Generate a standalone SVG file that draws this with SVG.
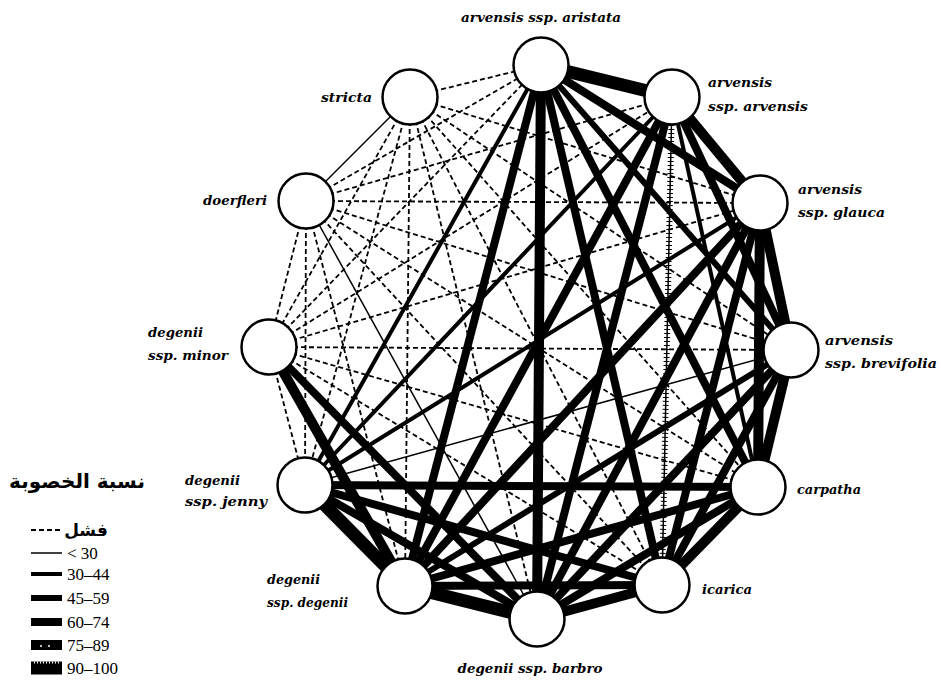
<svg xmlns="http://www.w3.org/2000/svg" width="941" height="683" viewBox="0 0 941 683">
  <style>
    .f{stroke:#000;stroke-width:1.8;stroke-dasharray:5 3;fill:none}
    .t0{stroke:#000;stroke-width:1.5}
    .t1{stroke:#000;stroke-width:4}
    .t2{stroke:#000;stroke-width:6}
    .t3{stroke:#000;stroke-width:8}
    .t4{stroke:#000;stroke-width:10}
    .t5{stroke:#000;stroke-width:13}
    .core{stroke:#fff;stroke-width:1.4;stroke-dasharray:2 6}
    .tick{stroke:#000;stroke-width:6;stroke-dasharray:1 3}
    .node{fill:#fff;stroke:#000;stroke-width:2.5}
    .lbl{font-family:"DejaVu Serif","Liberation Serif",serif;font-style:italic;font-weight:bold;font-size:13px;fill:#000}
    .leg{font-family:"Liberation Serif","DejaVu Serif",serif;font-size:17px;fill:#000}
    .ar{font-family:"DejaVu Sans","Noto Sans",sans-serif;font-weight:bold;fill:#000}
  </style>
  <rect width="941" height="683" fill="#fff"/>

  <!-- crossing results between taxa -->
  <g id="connectors" stroke-linecap="butt">
    <!-- failed crosses -->
    <line class="f" x1="410" y1="97" x2="541" y2="65"/>
    <line class="f" x1="410" y1="97" x2="760" y2="203"/>
    <line class="f" x1="410" y1="97" x2="791" y2="350"/>
    <line class="f" x1="410" y1="97" x2="758" y2="487"/>
    <line class="f" x1="410" y1="97" x2="662" y2="585"/>
    <line class="f" x1="410" y1="97" x2="537" y2="619"/>
    <line class="f" x1="410" y1="97" x2="405" y2="586"/>
    <line class="f" x1="410" y1="97" x2="305" y2="485"/>
    <line class="f" x1="410" y1="97" x2="269" y2="347"/>
    <line class="f" x1="306" y1="201" x2="541" y2="65"/>
    <line class="f" x1="306" y1="201" x2="672" y2="97"/>
    <line class="f" x1="306" y1="201" x2="760" y2="203"/>
    <line class="f" x1="306" y1="201" x2="791" y2="350"/>
    <line class="f" x1="306" y1="201" x2="758" y2="487"/>
    <line class="f" x1="306" y1="201" x2="662" y2="585"/>
    <line class="f" x1="306" y1="201" x2="405" y2="586"/>
    <line class="f" x1="306" y1="201" x2="305" y2="485"/>
    <line class="f" x1="306" y1="201" x2="269" y2="347"/>
    <line class="f" x1="269" y1="347" x2="541" y2="65"/>
    <line class="f" x1="269" y1="347" x2="672" y2="97"/>
    <line class="f" x1="269" y1="347" x2="760" y2="203"/>
    <line class="f" x1="269" y1="347" x2="791" y2="350"/>
    <line class="f" x1="269" y1="347" x2="758" y2="487"/>
    <line class="f" x1="269" y1="347" x2="662" y2="585"/>
    <line class="f" x1="269" y1="347" x2="305" y2="485"/>

    <!-- below 30 -->
    <line class="t0" x1="410" y1="97" x2="306" y2="201"/>
    <line class="t0" x1="306" y1="201" x2="537" y2="619"/>
    <line class="t0" x1="305" y1="485" x2="791" y2="350"/>

    <!-- 30-44 -->
    <line class="t1" x1="541" y1="65" x2="305" y2="485"/>
    <line class="t1" x1="672" y1="97" x2="305" y2="485"/>
    <line class="t1" x1="760" y1="203" x2="305" y2="485"/>
    <line class="t1" x1="672" y1="97" x2="758" y2="487"/>
    <line class="t0" x1="672" y1="97" x2="662" y2="585"/>
    <line class="tick" x1="672" y1="97" x2="662" y2="585"/>

    <!-- 45-59 -->
    <line class="t2" x1="541" y1="65" x2="791" y2="350"/>
    <line class="t2" x1="791" y1="350" x2="405" y2="586"/>

    <!-- 60-74 -->
    <line class="t3" x1="541" y1="65" x2="760" y2="203"/>
    <line class="t3" x1="541" y1="65" x2="758" y2="487"/>
    <line class="t3" x1="541" y1="65" x2="662" y2="585"/>
    <line class="t3" x1="541" y1="65" x2="405" y2="586"/>
    <line class="t3" x1="672" y1="97" x2="791" y2="350"/>
    <line class="t3" x1="672" y1="97" x2="537" y2="619"/>
    <line class="t3" x1="672" y1="97" x2="405" y2="586"/>
    <line class="t3" x1="760" y1="203" x2="662" y2="585"/>
    <line class="t3" x1="760" y1="203" x2="537" y2="619"/>
    <line class="t3" x1="760" y1="203" x2="405" y2="586"/>
    <line class="t3" x1="791" y1="350" x2="662" y2="585"/>
    <line class="t3" x1="791" y1="350" x2="537" y2="619"/>
    <line class="t3" x1="758" y1="487" x2="537" y2="619"/>
    <line class="t3" x1="758" y1="487" x2="405" y2="586"/>
    <line class="t3" x1="758" y1="487" x2="305" y2="485"/>
    <line class="t3" x1="662" y1="585" x2="405" y2="586"/>
    <line class="t3" x1="662" y1="585" x2="305" y2="485"/>
    <line class="t3" x1="537" y1="619" x2="305" y2="485"/>
    <line class="t3" x1="269" y1="347" x2="537" y2="619"/>

    <!-- 75-89 -->
    <line class="t4" x1="541" y1="65" x2="537" y2="619"/>
    <line class="t4" x1="672" y1="97" x2="760" y2="203"/>
    <line class="t4" x1="760" y1="203" x2="791" y2="350"/>
    <line class="t4" x1="760" y1="203" x2="758" y2="487"/>
    <line class="t4" x1="791" y1="350" x2="758" y2="487"/>
    <line class="t4" x1="758" y1="487" x2="662" y2="585"/>
    <line class="t4" x1="662" y1="585" x2="537" y2="619"/>
    <line class="t4" x1="269" y1="347" x2="405" y2="586"/>

    <!-- 90-100 -->
    <line class="t5" x1="541" y1="65" x2="672" y2="97"/>
    <line class="t5" x1="537" y1="619" x2="405" y2="586"/>
    <line class="t5" x1="405" y1="586" x2="305" y2="485"/>
  </g>

  <g id="node-aristata">
    <circle class="node" cx="541" cy="65" r="27.5"/>
    <text class="lbl" x="541" y="22" text-anchor="middle" textLength="160" lengthAdjust="spacingAndGlyphs">arvensis ssp. aristata</text>
  </g>
  <g id="node-arvensis">
    <circle class="node" cx="672" cy="97" r="27.5"/>
    <text class="lbl" x="708" y="87" textLength="64" lengthAdjust="spacingAndGlyphs">arvensis</text>
    <text class="lbl" x="708" y="111" textLength="100" lengthAdjust="spacingAndGlyphs">ssp. arvensis</text>
  </g>
  <g id="node-glauca">
    <circle class="node" cx="760" cy="203" r="27.5"/>
    <text class="lbl" x="798" y="194" textLength="64" lengthAdjust="spacingAndGlyphs">arvensis</text>
    <text class="lbl" x="798" y="217" textLength="87" lengthAdjust="spacingAndGlyphs">ssp. glauca</text>
  </g>
  <g id="node-brevifolia">
    <circle class="node" cx="791" cy="350" r="27.5"/>
    <text class="lbl" x="825" y="345" textLength="68" lengthAdjust="spacingAndGlyphs">arvensis</text>
    <text class="lbl" x="825" y="368" textLength="112" lengthAdjust="spacingAndGlyphs">ssp. brevifolia</text>
  </g>
  <g id="node-carpatha">
    <circle class="node" cx="758" cy="487" r="27.5"/>
    <text class="lbl" x="797" y="494" textLength="64" lengthAdjust="spacingAndGlyphs">carpatha</text>
  </g>
  <g id="node-icarica">
    <circle class="node" cx="662" cy="585" r="27.5"/>
    <text class="lbl" x="702" y="594" textLength="50" lengthAdjust="spacingAndGlyphs">icarica</text>
  </g>
  <g id="node-barbro">
    <circle class="node" cx="537" cy="619" r="27.5"/>
    <text class="lbl" x="530" y="673" text-anchor="middle" textLength="145" lengthAdjust="spacingAndGlyphs">degenii ssp. barbro</text>
  </g>
  <g id="node-degenii">
    <circle class="node" cx="405" cy="586" r="27.5"/>
    <text class="lbl" x="267" y="584" textLength="53" lengthAdjust="spacingAndGlyphs">degenii</text>
    <text class="lbl" x="267" y="607" textLength="81" lengthAdjust="spacingAndGlyphs">ssp. degenii</text>
  </g>
  <g id="node-jenny">
    <circle class="node" cx="305" cy="485" r="27.5"/>
    <text class="lbl" x="185" y="485" textLength="55" lengthAdjust="spacingAndGlyphs">degenii</text>
    <text class="lbl" x="185" y="506" textLength="82" lengthAdjust="spacingAndGlyphs">ssp. jenny</text>
  </g>
  <g id="node-minor">
    <circle class="node" cx="269" cy="347" r="27.5"/>
    <text class="lbl" x="148" y="337" textLength="55" lengthAdjust="spacingAndGlyphs">degenii</text>
    <text class="lbl" x="148" y="360" textLength="80" lengthAdjust="spacingAndGlyphs">ssp. minor</text>
  </g>
  <g id="node-doerfleri">
    <circle class="node" cx="306" cy="201" r="27.5"/>
    <text class="lbl" x="267" y="205" text-anchor="end" textLength="64" lengthAdjust="spacingAndGlyphs">doerfleri</text>
  </g>
  <g id="node-stricta">
    <circle class="node" cx="410" cy="97" r="27.5"/>
    <text class="lbl" x="372" y="102" text-anchor="end" textLength="51" lengthAdjust="spacingAndGlyphs">stricta</text>
  </g>

  <!-- key: fertility percentage -->
  <g id="legend">
    <text class="ar" x="77" y="488" font-size="20" text-anchor="middle">نسبة الخصوبة</text>
    <line class="f" x1="31" y1="530" x2="62" y2="530" stroke-dasharray="5 3"/>
    <text class="ar" x="86" y="536" font-size="17" text-anchor="middle">فشل</text>
    <line class="t0" x1="31" y1="553" x2="62" y2="553"/>
    <text class="leg" x="67" y="559">&lt; 30</text>
    <line class="t1" x1="31" y1="574" x2="62" y2="574"/>
    <text class="leg" x="67" y="580">30–44</text>
    <line class="t2" x1="31" y1="598" x2="62" y2="598"/>
    <text class="leg" x="67" y="604">45–59</text>
    <line class="t3" x1="31" y1="622" x2="62" y2="622"/>
    <text class="leg" x="67" y="628">60–74</text>
    <line class="t4" x1="31" y1="645" x2="62" y2="645"/>
    <line class="core" x1="40" y1="646" x2="56" y2="646" stroke-dasharray="2 4"/>
    <text class="leg" x="67" y="651">75–89</text>
    <line class="t5" x1="31" y1="668" x2="62" y2="668"/>
    <line stroke="#fff" stroke-width="2" stroke-dasharray="1 2" x1="34" y1="662.5" x2="60" y2="662.5"/>
    <text class="leg" x="67" y="674">90–100</text>
  </g>
</svg>
